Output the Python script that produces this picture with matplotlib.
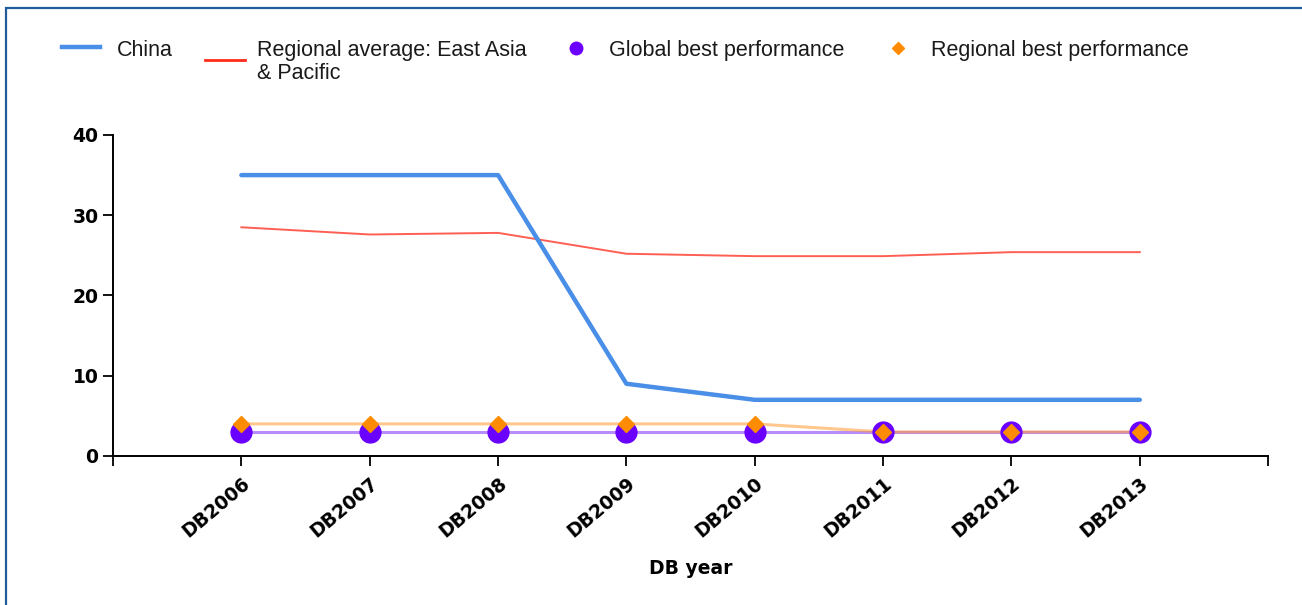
import matplotlib
matplotlib.use("Agg")
import matplotlib.pyplot as plt
from matplotlib.lines import Line2D
from matplotlib.patches import Rectangle

years = ["DB2006", "DB2007", "DB2008", "DB2009", "DB2010", "DB2011", "DB2012", "DB2013"]
china = [35, 35, 35, 9, 7, 7, 7, 7]
regional_avg = [28.5, 27.6, 27.8, 25.2, 24.9, 24.9, 25.4, 25.4]
global_best = [3, 3, 3, 3, 3, 3, 3, 3]
regional_best = [4, 4, 4, 4, 4, 3, 3, 3]

W, H = 1302, 605
fig = plt.figure(figsize=(W / 100, H / 100), dpi=100)
ax = fig.add_axes([0.0868, 0.2463, 0.8872, 0.5306])

x = list(range(len(years)))
ax.plot(x, china, color="#4a8fe7", lw=3.2, solid_capstyle="round", zorder=4)
ax.plot(x, regional_avg, color="#ff2a1a", lw=1.4, alpha=0.75, zorder=3)
ax.plot(x, global_best, color="#9a5cff", lw=2.2, alpha=0.7, zorder=2)
ax.plot(x, global_best, ls="none", marker="o", ms=15, color="#6a00ff", zorder=5)
ax.plot(x, regional_best, color="#ff9a30", lw=2.2, alpha=0.55, zorder=3)
ax.plot(x, regional_best, ls="none", marker="D", ms=8, color="#ff8c00", zorder=6)

ax.set_xlim(-1, 8)
ax.set_ylim(0, 40)
ax.set_xticks(range(-1, 9))
ax.set_xticklabels([""] + years + [""], rotation=40, ha="right", rotation_mode="anchor",
                   fontsize=13.5, fontweight="bold")
ax.set_yticks([0, 10, 20, 30, 40])
ax.tick_params(axis="y", labelsize=13.5, length=7, width=1.3)
for lab in ax.get_yticklabels():
    lab.set_fontweight("bold")
ax.tick_params(axis="x", length=7, width=1.3, pad=6)
ax.set_xlabel("DB year", fontsize=13.5, fontweight="bold", labelpad=13)
for s in ["top", "right"]:
    ax.spines[s].set_visible(False)
for s in ["left", "bottom"]:
    ax.spines[s].set_linewidth(1.4)

# legend drawn by hand (pixel positions from the top-left corner)
def fx(px):
    return px / W

def fy(py):
    return 1 - py / H

leg_font = {"family": "Liberation Sans", "size": 15.5, "color": "#1a1a1a"}
top = fy(40)
fig.add_artist(Line2D([fx(62), fx(100)], [fy(47), fy(47)], color="#4a8fe7", lw=3.2,
                      transform=fig.transFigure))
fig.text(fx(117), top, "China", va="top", **leg_font)
fig.add_artist(Line2D([fx(205), fx(245)], [fy(60), fy(60)], color="#ff2a1a", lw=2,
                      transform=fig.transFigure))
fig.text(fx(257), top, "Regional average: East Asia\n& Pacific", va="top",
         linespacing=1.1, **leg_font)
fig.add_artist(Line2D([fx(576)], [fy(48)], ls="none", marker="o", ms=9, color="#6a00ff",
                      transform=fig.transFigure))
fig.text(fx(609), top, "Global best performance", va="top", **leg_font)
fig.add_artist(Line2D([fx(898)], [fy(48)], ls="none", marker="D", ms=6.5, color="#ff8c00",
                      transform=fig.transFigure))
fig.text(fx(931), top, "Regional best performance", va="top", **leg_font)

fig.add_artist(Rectangle((fx(6), -0.1), 1.2, 1.1 - 8 / H, transform=fig.transFigure,
                         fill=False, edgecolor="#1f5c99", lw=1.6))

fig.savefig("out.png", dpi=100)
